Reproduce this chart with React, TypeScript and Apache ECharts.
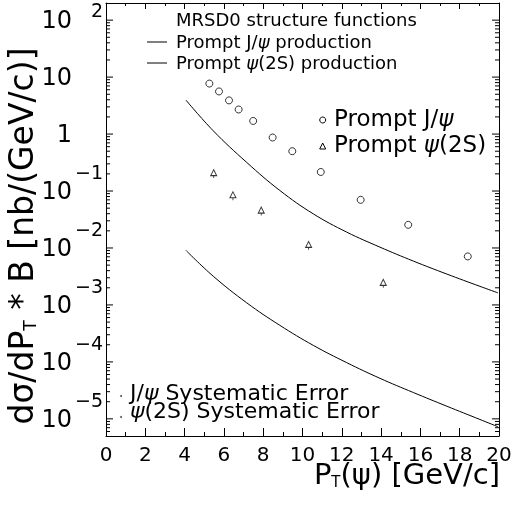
import React, { useEffect, useRef } from 'react';
import * as echarts from 'echarts';

const FONT = 'DejaVu Sans';

// Axis ranges / tick labels
const xMin = 0;
const xMax = 20;
const xStep = 2;
const yMin = 5e-6;
const yMax = 200;
const yLabelExponents = [-5, -4, -3, -2, -1, 0, 1, 2];
const yMinorMultipliers = [2, 3, 4, 5, 6, 7, 8, 9];

// Measured prompt J/psi cross sections
const jpsiPt = [5.26, 5.75, 6.26, 6.75, 7.49, 8.48, 9.48, 10.93, 12.96, 15.38, 18.41];
const jpsiXsec = [7.7, 5.6, 3.9, 2.7, 1.7, 0.87, 0.5, 0.216, 0.07, 0.0255, 0.0071];

// Measured prompt psi(2S) cross sections
const psi2sPt = [5.48, 6.46, 7.9, 10.31, 14.11];
const psi2sXsec = [0.2, 0.082, 0.044, 0.011, 0.00237];

// Theory curves (MRSD0)
const theoryPt = [4.07, 5.46, 7.16, 8.85, 10.55, 12.25, 13.94, 15.64, 17.34, 19.03, 19.95];
const jpsiTheory = [3.94, 1.14, 0.318, 0.102, 0.0397, 0.019, 0.01035, 0.00589, 0.00349, 0.00212, 0.00163];
const psi2sTheory = [0.00906, 0.00319, 0.00109, 4.38e-4, 1.95e-4, 9.7e-5, 5.15e-5, 2.9e-5, 1.67e-5, 9.75e-6, 7.26e-6];

const minorTickValues: number[] = [];
for (let n = yLabelExponents[0] - 1; n <= yLabelExponents[yLabelExponents.length - 1]; n++) {
  for (const k of yMinorMultipliers) {
    const v = k * Math.pow(10, n);
    if (v > yMin && v < yMax) minorTickValues.push(v);
  }
}
const majorTickValues = yLabelExponents.map((n) => Math.pow(10, n));

function yLabel(v: number): string {
  const e = Math.log10(v);
  const n = Math.round(e);
  if (Math.abs(e - n) > 1e-6 || yLabelExponents.indexOf(n) < 0) return '';
  if (n === 0) return '{b|1}{s| }';
  if (n === 1) return '{b|10}{s| }';
  if (n === 2) return '{b|10}{t|2}';
  return '{b|10}{s|\u2212' + String(-n) + '}';
}

export default function App() {
  const ref = useRef<HTMLDivElement>(null);
  useEffect(() => {
    if (!ref.current) return;
    const chart = echarts.init(ref.current, undefined, { renderer: 'svg' });
    const black = '#000';
    const mkAxis = () => ({
      z: 20,
      axisLine: { show: true, onZero: false, lineStyle: { color: black, width: 1 } },
      splitLine: { show: false },
    });
    const txt = (size: number, extra: any = {}) => ({ fontSize: size, fontFamily: FONT, color: black, ...extra });
    const gtxt = (size: number, extra: any = {}) => ({ fontSize: size, fontFamily: FONT, fill: black, ...extra });

    const yTickSeries = (vals: number[], len: number, name: string) => ({
      type: 'custom', name, silent: true, xAxisIndex: 0, yAxisIndex: 0, clip: false, z: 20,
      data: vals.map((v) => [xMin, v]),
      renderItem: (params: any, api: any) => {
        const pt = api.coord([xMin, api.value(1)]);
        const cs = params.coordSys;
        return {
          type: 'group',
          children: [
            { type: 'line', shape: { x1: cs.x, y1: pt[1], x2: cs.x + len, y2: pt[1] }, style: { stroke: black, lineWidth: 1 } },
            { type: 'line', shape: { x1: cs.x + cs.width - len, y1: pt[1], x2: cs.x + cs.width, y2: pt[1] }, style: { stroke: black, lineWidth: 1 } },
          ],
        };
      },
    });

    const italic = (size: number) => ({ i: gtxt(size, { fontStyle: 'italic' }) });

    const option: any = {
      animation: false,
      textStyle: { fontFamily: FONT },
      grid: { left: 106, top: 3, right: 19, bottom: 70, containLabel: false, outerBoundsMode: 'none' },
      xAxis: [
        {
          type: 'value', position: 'bottom', min: xMin, max: xMax, interval: xStep,
          ...mkAxis(),
          axisTick: { show: true, inside: true, length: 8, lineStyle: { color: black, width: 1 } },
          minorTick: { show: true, splitNumber: 2, length: 4, lineStyle: { color: black, width: 1 } },
          axisLabel: { show: true, margin: 8, ...txt(20), lineHeight: 20 },
        },
        {
          type: 'value', position: 'top', min: xMin, max: xMax, interval: xStep,
          ...mkAxis(),
          axisTick: { show: true, inside: true, length: 6, lineStyle: { color: black, width: 1 } },
          minorTick: { show: true, splitNumber: 2, length: 3, lineStyle: { color: black, width: 1 } },
          axisLabel: { show: false },
        },
      ],
      yAxis: [
        {
          type: 'log', position: 'left', min: yMin, max: yMax, logBase: 10,
          ...mkAxis(),
          axisTick: { show: false },
          axisLabel: {
            show: true, margin: 3, formatter: yLabel,
            rich: {
              b: txt(24, { lineHeight: 26, align: 'right' }),
              s: txt(19, { height: 19, lineHeight: 19, padding: [0, 0, 38, 0], width: 31, align: 'right' }),
              t: txt(19, { height: 19, lineHeight: 19, padding: [0, 0, 20, 0], width: 31, align: 'right' }),
            },
          },
        },
        {
          type: 'log', position: 'right', min: yMin, max: yMax, logBase: 10,
          ...mkAxis(),
          axisTick: { show: false },
          axisLabel: { show: false },
        },
      ],
      series: [
        yTickSeries(minorTickValues, 4, 'minor ticks'),
        yTickSeries(majorTickValues, 7, 'major ticks'),
        {
          type: 'line', name: 'Prompt J/ψ production', silent: true,
          data: theoryPt.map((x, i) => [x, jpsiTheory[i]]),
          symbol: 'none', smooth: 0.4,
          lineStyle: { color: black, width: 1 },
        },
        {
          type: 'line', name: 'Prompt ψ(2S) production', silent: true,
          data: theoryPt.map((x, i) => [x, psi2sTheory[i]]),
          symbol: 'none', smooth: 0.4,
          lineStyle: { color: black, width: 1 },
        },
        {
          type: 'scatter', name: 'Prompt J/ψ', silent: true,
          data: jpsiPt.map((x, i) => [x, jpsiXsec[i]]),
          symbol: 'circle', symbolSize: 7,
          itemStyle: { color: 'rgba(0,0,0,0)', borderColor: black, borderWidth: 1 },
        },
        {
          type: 'scatter', name: 'Prompt ψ(2S)', silent: true,
          data: psi2sPt.map((x, i) => [x, psi2sXsec[i]]),
          symbol: 'path://M5,0L10,10L0,10Z M5,10L5,14', symbolSize: [6, 8.4],
          itemStyle: { color: 'rgba(0,0,0,0)', borderColor: black, borderWidth: 1 },
        },
      ],
      graphic: [
        // top legend
        { type: 'text', x: 176, y: 19, style: { text: 'MRSD0 structure functions', ...gtxt(18), align: 'left', verticalAlign: 'middle' } },
        { type: 'line', shape: { x1: 147, y1: 42, x2: 167, y2: 42 }, style: { stroke: black, lineWidth: 1 } },
        {
          type: 'text', x: 176, y: 41,
          style: { text: 'Prompt J/{i|ψ} production', ...gtxt(18), align: 'left', verticalAlign: 'middle', rich: italic(18) },
        },
        { type: 'line', shape: { x1: 147, y1: 63, x2: 167, y2: 63 }, style: { stroke: black, lineWidth: 1 } },
        {
          type: 'text', x: 176, y: 62,
          style: { text: 'Prompt {i|ψ}(2S) production', ...gtxt(18), align: 'left', verticalAlign: 'middle', rich: italic(18) },
        },
        // right legend
        { type: 'circle', shape: { cx: 322.7, cy: 120, r: 3 }, style: { fill: 'none', stroke: black, lineWidth: 1 } },
        {
          type: 'text', x: 334, y: 118,
          style: { text: 'Prompt J/{i|ψ}', ...gtxt(23), align: 'left', verticalAlign: 'middle', rich: italic(23) },
        },
        { type: 'polygon', shape: { points: [[322.7, 143], [325.7, 149], [319.7, 149]] }, style: { fill: 'none', stroke: black, lineWidth: 1 } },
        {
          type: 'text', x: 334, y: 144,
          style: { text: 'Prompt {i|ψ}(2S)', ...gtxt(23), align: 'left', verticalAlign: 'middle', rich: italic(23) },
        },
        // bottom-left legend
        { type: 'circle', shape: { cx: 121, cy: 396, r: 1 }, style: { fill: '#555' } },
        {
          type: 'text', x: 130, y: 392,
          style: { text: 'J/{i|ψ} Systematic Error', ...gtxt(22), align: 'left', verticalAlign: 'middle', rich: italic(22) },
        },
        { type: 'circle', shape: { cx: 121, cy: 417, r: 1 }, style: { fill: '#555' } },
        {
          type: 'text', x: 130, y: 410,
          style: { text: '{i|ψ}(2S) Systematic Error', ...gtxt(22), align: 'left', verticalAlign: 'middle', rich: italic(22) },
        },
        // axis titles
        {
          type: 'text', x: 500, y: 474,
          style: {
            text: 'P{sub|T}(ψ) [GeV/c]', ...gtxt(29), align: 'right', verticalAlign: 'middle',
            rich: { sub: gtxt(15, { height: 15, lineHeight: 15, padding: [16, 0, 0, 0] }) },
          },
        },
        {
          type: 'text', x: 21, y: 236, rotation: Math.PI / 2,
          style: {
            text: 'dσ/dP{sub|T} * B [nb/(GeV/c)]', ...gtxt(33), align: 'center', verticalAlign: 'middle',
            rich: { sub: gtxt(17, { height: 17, lineHeight: 17, padding: [18, 0, 0, 0] }) },
          },
        },
      ],
    };
    chart.setOption(option);
    return () => chart.dispose();
  }, []);
  return <div ref={ref} style={{ position: 'fixed', left: 0, top: 0, width: 518, height: 506 }} />;
}
